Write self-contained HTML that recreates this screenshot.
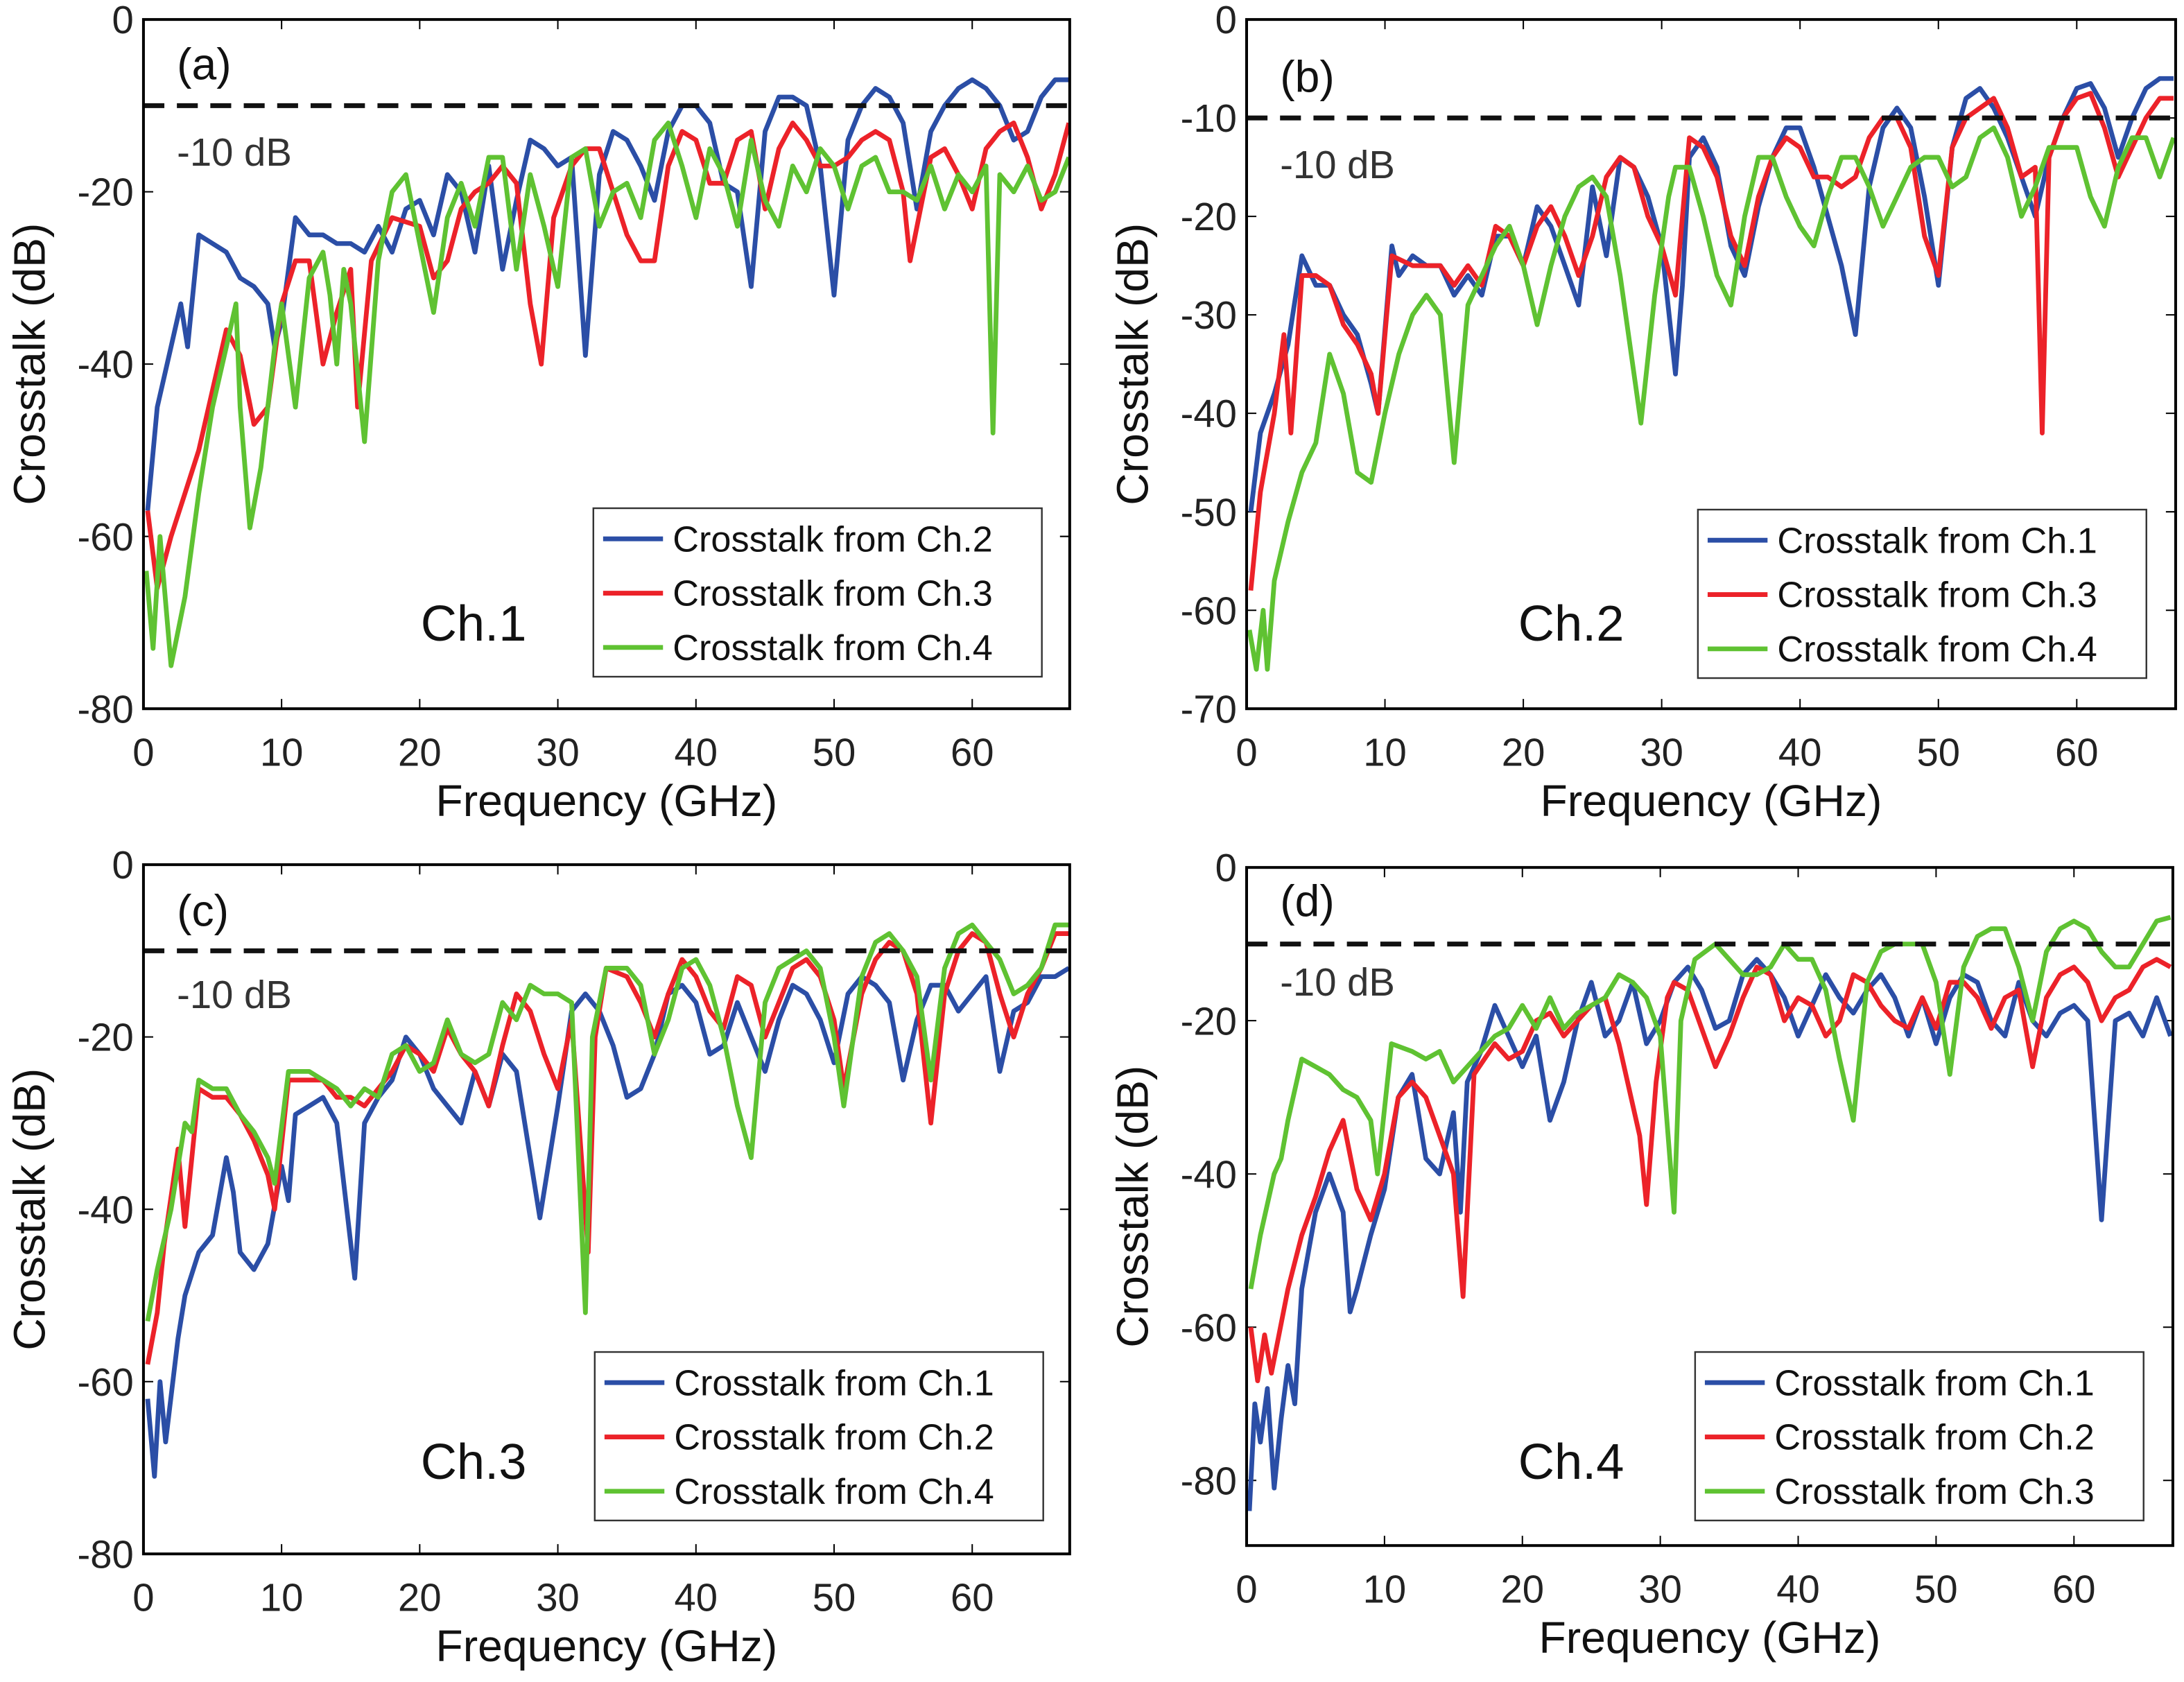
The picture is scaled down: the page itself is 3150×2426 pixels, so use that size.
<!DOCTYPE html>
<html><head><meta charset="utf-8">
<style>
html,body{margin:0;padding:0;background:#fff;}
svg{display:block;font-family:"Liberation Sans",Arial,sans-serif;}
</style></head>
<body>
<svg id="fig" width="3150" height="2426" viewBox="0 0 1568 1208" preserveAspectRatio="none" xmlns="http://www.w3.org/2000/svg"></svg>
<script>
// ---------- DATA ----------
// Panel (a) Ch.1
const aBlueF=[0.3,1,2,2.7,3.2,4,5,6,7,8,9,9.5,10,11,12,13,14,15,16,17,18,19,20,21,22,23,24,25,26,27,28,29,30,31,32,33,34,35,36,37,38,39,40,41,42,43,44,45,46,47,48,49,50,51,52,53,54,55,56,57,58,59,60,61,62,63,64,65,66,67];
const aBlueV=[-57,-45,-38,-33,-38,-25,-26,-27,-30,-31,-33,-38,-35,-23,-25,-25,-26,-26,-27,-24,-27,-22,-21,-25,-18,-20,-27,-17,-29,-21,-14,-15,-17,-16,-39,-18,-13,-14,-17,-21,-13,-10,-10,-12,-19,-20,-31,-13,-9,-9,-10,-17,-32,-14,-10,-8,-9,-12,-22,-13,-10,-8,-7,-8,-10,-14,-13,-9,-7,-7];
const aRedF=[0.3,1,2,3,4,5,6,7,8,9,10,11,12,13,14,15,15.5,16.5,18,20,21,22,23,24,25,26,27,28,28.8,29.7,31,32,33,34,35,36,37,38,39,40,41,42,43,44,45,46,47,48,49,50,51,52,53,54,55,55.5,57,58,59,60,61,62,63,64,65,66,67];
const aRedV=[-57,-66,-60,-55,-50,-43,-36,-39,-47,-45,-33,-28,-28,-40,-34,-29,-45,-28,-23,-24,-30,-28,-22,-20,-19,-17,-19,-33,-40,-23,-17,-15,-15,-20,-25,-28,-28,-17,-13,-14,-19,-19,-14,-13,-22,-15,-12,-14,-17,-17,-16,-14,-13,-14,-20,-28,-16,-15,-18,-22,-15,-13,-12,-16,-22,-18,-12];
const aGreenF=[0.2,0.7,1.2,2,3,4,5,6,6.7,7,7.7,8.5,9.5,10,11,12,13,13.5,14,14.5,15,16,17,18,19,20,21,22,23,24,25,26,27,28,29,30,31,32,33,34,35,36,37,38,39,40,41,42,43,44,45,46,47,48,49,50,51,52,53,54,55,56,57,58,59,60,61,61.5,62,63,64,65,66,67];
const aGreenV=[-64,-73,-60,-75,-67,-55,-45,-38,-33,-45,-59,-52,-38,-33,-45,-30,-27,-32,-40,-29,-33,-49,-28,-20,-18,-26,-34,-23,-19,-24,-16,-16,-29,-18,-24,-31,-16,-15,-24,-20,-19,-23,-14,-12,-17,-23,-15,-18,-24,-14,-21,-24,-17,-20,-15,-17,-22,-17,-16,-20,-20,-21,-17,-22,-18,-20,-17,-48,-18,-20,-17,-21,-20,-16];
// Panel (b) Ch.2
const bBlueF=[0.3,1,2,3,4,5,6,7,8,9,9.5,10.5,11,12,13,14,15,16,17,18,19,20,21,22,23,24,25,26,27,28,29,30,31,31.5,32,33,34,35,36,37,38,39,40,41,42,43,44,45,46,47,48,49,50,51,52,53,54,55,56,57,58,59,60,61,62,63,64,65,66,67];
const bBlueV=[-50,-42,-38,-33,-24,-27,-27,-30,-32,-37,-40,-23,-26,-24,-25,-25,-28,-26,-28,-22,-22,-25,-19,-21,-25,-29,-17,-24,-14,-15,-18,-23,-36,-27,-14,-12,-15,-23,-26,-19,-14,-11,-11,-15,-20,-25,-32,-17,-11,-9,-11,-18,-27,-13,-8,-7,-9,-12,-16,-20,-14,-10,-7,-6.5,-9,-14,-10,-7,-6,-6];
const bRedF=[0.3,1,2,2.7,3.2,4,5,6,7,8,9,9.5,10.5,12,14,15,16,17,18,19,20,21,22,23,24,25,26,27,28,29,30,31,32,33,34,35,36,37,38,39,40,41,42,43,44,45,46,47,48,49,50,51,52,53,54,55,56,57,57.5,58,59,60,61,62,63,64,65,66,67];
const bRedV=[-58,-48,-40,-32,-42,-26,-26,-27,-31,-33,-36,-40,-24,-25,-25,-27,-25,-27,-21,-22,-25,-21,-19,-22,-26,-22,-16,-14,-15,-20,-23,-28,-12,-13,-16,-22,-25,-18,-14,-12,-13,-16,-16,-17,-16,-12,-10,-10,-13,-22,-26,-13,-10,-9,-8,-11,-16,-15,-42,-14,-10,-8,-7.5,-11,-16,-13,-10,-8,-8];
const bGreenF=[0.2,0.7,1.2,1.5,2,3,4,5,6,7,8,9,10,11,12,13,14,15,16,17,18,19,20,21,22,23,24,25,26,27,28.5,29.5,30.5,31,32,33,34,35,36,37,38,39,40,41,42,43,44,45,46,47,48,49,50,51,52,53,54,55,56,57,58,59,60,61,62,63,64,65,66,67];
const bGreenV=[-62,-66,-60,-66,-57,-51,-46,-43,-34,-38,-46,-47,-40,-34,-30,-28,-30,-45,-29,-26,-23,-21,-25,-31,-25,-20,-17,-16,-18,-26,-41,-28,-18,-15,-15,-20,-26,-29,-20,-14,-14,-18,-21,-23,-18,-14,-14,-17,-21,-18,-15,-14,-14,-17,-16,-12,-11,-14,-20,-17,-13,-13,-13,-18,-21,-15,-12,-12,-16,-12];
// Panel (c) Ch.3
const cBlueF=[0.3,0.8,1.2,1.6,2.5,3,4,5,6,6.5,7,8,9,10,10.5,11,12,13,14,15.3,16,17,18,19,20,21,22,23,24,25,26,27,28,28.7,30,31,32,33,34,35,36,37,38,39,40,41,42,43,44,45,46,47,48,49,50,51,52,53,54,55,56,57,58,59,60,61,62,63,64,65,66,67];
const cBlueV=[-62,-71,-60,-67,-55,-50,-45,-43,-34,-38,-45,-47,-44,-35,-39,-29,-28,-27,-30,-48,-30,-27,-25,-20,-22,-26,-28,-30,-24,-28,-22,-24,-34,-41,-28,-17,-15,-17,-21,-27,-26,-22,-15,-14,-16,-22,-21,-16,-20,-24,-18,-14,-15,-18,-23,-15,-13,-14,-16,-25,-18,-14,-14,-17,-15,-13,-24,-17,-16,-13,-13,-12];
const cRedF=[0.3,1,1.5,2.5,3,4,5,6,7,8,9,9.5,10.5,12,13,14,15,16,17,18,19,20,21,22,23,24,25,26,27,28,29,30,31,32.2,32.7,33.5,35,36,37,38,39,40,41,42,43,44,45,46,47,48,49,50,50.7,52,53,54,55,56,57,58,59,60,61,62,63,64,65,66,67];
const cRedV=[-58,-52,-44,-33,-42,-26,-27,-27,-29,-32,-36,-40,-25,-25,-25,-27,-27,-28,-26,-24,-21,-22,-24,-19,-22,-24,-28,-21,-15,-17,-22,-26,-18,-45,-20,-12,-13,-16,-20,-15,-11,-13,-17,-19,-13,-14,-20,-16,-12,-11,-13,-18,-26,-15,-11,-9,-10,-15,-30,-15,-10,-8,-9,-15,-20,-15,-12,-8,-8];
const cGreenF=[0.3,1,2,2.5,3,3.5,4,5,6,7,8,9,9.5,10.5,12,13,14,15,16,17,18,19,20,21,22,23,24,25,26,27,28,29,30,31,32,32.5,33.5,35,36,37,38,39,40,41,42,43,44,45,46,47,48,49,50,50.7,52,53,54,55,56,57,58,59,60,61,62,63,64,65,66,67];
const cGreenV=[-53,-47,-40,-35,-30,-31,-25,-26,-26,-29,-31,-34,-37,-24,-24,-25,-26,-28,-26,-27,-22,-21,-24,-23,-18,-22,-23,-22,-16,-18,-14,-15,-15,-16,-52,-20,-12,-12,-14,-22,-18,-12,-11,-14,-20,-28,-34,-16,-12,-11,-10,-12,-20,-28,-13,-9,-8,-10,-13,-25,-12,-8,-7,-9,-11,-15,-14,-12,-7,-7];
// Panel (d) Ch.4
const dBlueF=[0.2,0.6,1,1.5,2,2.5,3,3.5,4,5,6,7,7.5,8,9,10,11,12,13,14,15,15.5,16,17,18,19,20,21,22,23,24,25,26,27,28,29,30,31,32,33,34,35,36,37,38,39,40,41,42,43,44,45,46,47,48,49,50,51,52,53,54,55,56,57,58,59,60,61,62,63,64,65,66,67];
const dBlueV=[-84,-70,-75,-68,-81,-72,-65,-70,-55,-45,-40,-45,-58,-55,-48,-42,-30,-27,-38,-40,-32,-45,-28,-24,-18,-22,-26,-22,-33,-28,-20,-15,-22,-20,-15,-23,-20,-15,-13,-16,-21,-20,-14,-12,-14,-17,-22,-18,-14,-17,-19,-16,-14,-17,-22,-17,-23,-17,-14,-15,-20,-22,-15,-20,-22,-19,-18,-20,-46,-20,-19,-22,-17,-22];
const dRedF=[0.3,0.8,1.3,1.8,3,4,5,6,7,8,9,10,11,12,13,14,15,15.7,16.5,18,19,20,21,22,23,24,25,26,27,28.5,29,29.7,30.5,31,32,33,34,35,36,37,38,39,40,41,42,43,44,45,46,47,48,49,50,51,52,53,54,55,56,57,58,59,60,61,62,63,64,65,66,67];
const dRedV=[-60,-67,-61,-66,-55,-48,-43,-37,-33,-42,-46,-40,-30,-28,-30,-35,-40,-56,-27,-23,-25,-24,-20,-19,-22,-20,-18,-17,-23,-35,-44,-28,-17,-15,-16,-21,-26,-22,-17,-13,-14,-20,-17,-18,-22,-20,-14,-15,-18,-20,-21,-17,-21,-15,-15,-17,-21,-17,-16,-26,-17,-14,-13,-15,-20,-17,-16,-13,-12,-13];
const dGreenF=[0.3,1,2,2.5,3,4,5,6,7,8,9,9.5,10.5,12,13,14,15,16,17,18,19,20,21,22,23,24,25,26,27,28,29,30,31,31.5,32.5,34,35,36,37,38,39,40,41,42,43,44,45,46,47,48,49,50,51,52,53,54,55,56,57,58,59,60,61,62,63,64,65,66,67];
const dGreenV=[-55,-48,-40,-38,-33,-25,-26,-27,-29,-30,-33,-40,-23,-24,-25,-24,-28,-26,-24,-22,-21,-18,-21,-17,-21,-19,-18,-17,-14,-15,-17,-22,-45,-20,-12,-10,-12,-14,-14,-13,-10,-12,-12,-16,-25,-33,-15,-11,-10,-10,-10,-15,-27,-13,-9,-8,-8,-13,-20,-11,-8,-7,-8,-11,-13,-13,-10,-7,-6.5];

const xTicks=[0,10,20,30,40,50,60];
const aYTicks=[0,-20,-40,-60,-80];
const bYTicks=[0,-10,-20,-30,-40,-50,-60,-70];
const cYTicks=[0,-20,-40,-60,-80];
const dYTicks=[0,-20,-40,-60,-80];

const BLUE='#2b4ea6',RED='#ec2229',GREEN='#5fc232';
const NS='http://www.w3.org/2000/svg';
const svg=document.getElementById('fig');
function mk(tag,attrs,parent){const e=document.createElementNS(NS,tag);for(const k in attrs)e.setAttribute(k,attrs[k]);(parent||svg).appendChild(e);return e;}

const panels=[
 {id:'a',L:103,T:14,R:768,B:509,x60:698,ymin:-80,yt:aYTicks,ch:'Ch.1',series:[[aBlueF,aBlueV,BLUE,'Crosstalk from Ch.2'],[aRedF,aRedV,RED,'Crosstalk from Ch.3'],[aGreenF,aGreenV,GREEN,'Crosstalk from Ch.4']],leg:[426,365],chx:302,chy:460,lblY:119,ltY:57},
 {id:'b',L:895,T:14,R:1562,B:509,x60:1491,ymin:-70,yt:bYTicks,ch:'Ch.2',series:[[bBlueF,bBlueV,BLUE,'Crosstalk from Ch.1'],[bRedF,bRedV,RED,'Crosstalk from Ch.3'],[bGreenF,bGreenV,GREEN,'Crosstalk from Ch.4']],leg:[1219,366],chx:1090,chy:460,lblY:128,ltY:66},
 {id:'c',L:103,T:621,R:768,B:1116,x60:698,ymin:-80,yt:cYTicks,ch:'Ch.3',series:[[cBlueF,cBlueV,BLUE,'Crosstalk from Ch.1'],[cRedF,cRedV,RED,'Crosstalk from Ch.2'],[cGreenF,cGreenV,GREEN,'Crosstalk from Ch.4']],leg:[427,971],chx:302,chy:1062,lblY:724,ltY:665},
 {id:'d',L:895,T:623,R:1560,B:1110,x60:1489,ymin:-88.5,yt:dYTicks,ch:'Ch.4',series:[[dBlueF,dBlueV,BLUE,'Crosstalk from Ch.1'],[dRedF,dRedV,RED,'Crosstalk from Ch.2'],[dGreenF,dGreenV,GREEN,'Crosstalk from Ch.3']],leg:[1217,971],chx:1090,chy:1062,lblY:715,ltY:658}
];

panels.forEach(p=>{
  const g=mk('g',{});
  
  
  const xmax=(p.R-p.L)/(p.x60-p.L)*60;
  const X=f=>p.L+(f/xmax)*(p.R-p.L);
  const Y=v=>p.T+(v/p.ymin)*(p.B-p.T);
  const clip=mk('clipPath',{id:'clip'+p.id},g);
  mk('rect',{x:p.L,y:p.T,width:p.R-p.L,height:p.B-p.T},clip);
  xTicks.forEach(t=>{
    const x=X(t);
    const tk=mk('path',{d:`M${x},${p.B}v-7M${x},${p.T}v7`,stroke:'#000','stroke-width':1},g);
    
    
    const tl=mk('text',{x:x,y:p.B+41,'text-anchor':'middle','font-size':28,fill:'#222'},g);
    
    
    tl.textContent=t;
  });
  p.yt.forEach(t=>{
    const y=Y(t);
    const tk=mk('path',{d:`M${p.L},${y}h7M${p.R},${y}h-7`,stroke:'#000','stroke-width':1},g);
    
    
    const tl=mk('text',{x:p.L-7,y:y+10,'text-anchor':'end','font-size':28,fill:'#222'},g);
    
    
    tl.textContent=t;
  });
  const sg=mk('g',{'clip-path':`url(#clip${p.id})`},g);
  p.series.forEach(s=>{
    const d=s[0].map((f,i)=>(i?'L':'M')+X(f).toFixed(1)+','+Y(s[1][i]).toFixed(1)).join('');
    const ln=mk('path',{d:d,fill:'none',stroke:s[2],'stroke-width':3.4,'stroke-linejoin':'round'},sg);
    
    
  });
  const dl=mk('line',{x1:p.L,x2:p.R,y1:Y(-10),y2:Y(-10),stroke:'#111','stroke-width':3.5,'stroke-dasharray':'15 9'},g);
  
  
  const th=mk('text',{x:p.L+24,y:p.lblY,'font-size':28,fill:'#333'},g);
  
  
  th.textContent='-10 dB';
  const pl=mk('text',{x:p.L+24,y:p.ltY,'font-size':32,fill:'#111'},g);
  
  
  pl.textContent='('+p.id+')';
  const bx=mk('rect',{x:p.L,y:p.T,width:p.R-p.L,height:p.B-p.T,fill:'none',stroke:'#000','stroke-width':2},g);
  
  
  const xt=mk('text',{x:(p.L+p.R)/2,y:p.B+77,'text-anchor':'middle','font-size':32,fill:'#111'},g);
  
  
  xt.textContent='Frequency (GHz)';
  const yx=p.L-71;
  const yt=mk('text',{x:yx,y:(p.T+p.B)/2,'text-anchor':'middle','font-size':32,fill:'#111',transform:`rotate(-90 ${yx} ${(p.T+p.B)/2})`},g);
  
  
  yt.textContent='Crosstalk (dB)';
  const cl=mk('text',{x:p.chx,y:p.chy,'font-size':36,fill:'#111'},g);
  
  
  cl.textContent=p.ch;
  const lg=mk('g',{},g);
  
  
  mk('rect',{x:p.leg[0],y:p.leg[1],width:322,height:121,fill:'#fff',stroke:'#333','stroke-width':1.2},lg);
  p.series.forEach((s,i)=>{
    const yy=p.leg[1]+22+i*39;
    const ent=mk('g',{},lg);
    
    
    mk('line',{x1:p.leg[0]+7,x2:p.leg[0]+50,y1:yy,y2:yy,stroke:s[2],'stroke-width':3.4},ent);
    const t=mk('text',{x:p.leg[0]+57,y:yy+9,'font-size':26,fill:'#111'},ent);
    t.textContent=s[3];
  });
});
</script>
</body></html>
